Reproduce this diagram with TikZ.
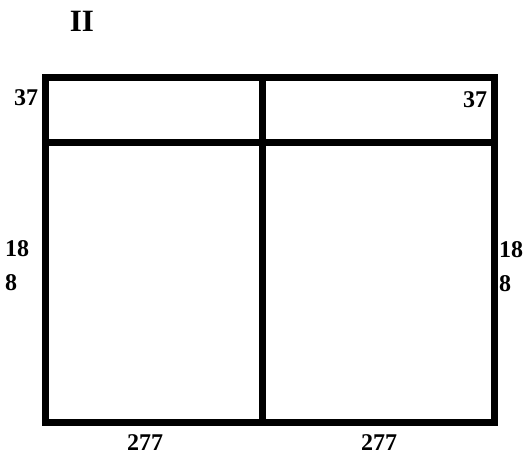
\documentclass[tikz,border=0pt]{standalone}
\usepackage{fontspec}
\setmainfont{Liberation Serif}
\usetikzlibrary{positioning}
\tikzset{
  wall/.style={line width=7pt},
  lbl/.style={font=\bfseries\fontsize{24}{34}\selectfont, inner sep=0pt},
  ttl/.style={font=\bfseries\fontsize{31}{36}\selectfont, inner sep=0pt}
}

\begin{document}
\begin{tikzpicture}[x=1pt,y=-1pt]
\useasboundingbox (0,0) rectangle (529,458);

% outer frame and dividers
\coordinate (nw) at (45.5,77);
\coordinate (se) at (494,422);
\coordinate (midtop) at (262.5,77);
\coordinate (midbot) at (262.5,422);
\coordinate (rowl) at (45.5,142.5);
\coordinate (rowr) at (494,142.5);

\draw[wall] (nw) rectangle (se);
\draw[wall] (midtop) -- (midbot);
\draw[wall] (rowl) -- (rowr);

% labels
\node[ttl] (title) at (82,21) {II};
\node[lbl] (topl) at (26,98) {37};
\node[lbl] (topr) at (475,100) {37};
\node[lbl,align=left,anchor=west] (sidel) at (5,266) {18\\8};
\node[lbl,align=left,anchor=west] (sider) at (499,267) {18\\8};
\node[lbl] (botl) at (145,443) {277};
\node[lbl] (botr) at (379,443) {277};
\end{tikzpicture}
\end{document}
